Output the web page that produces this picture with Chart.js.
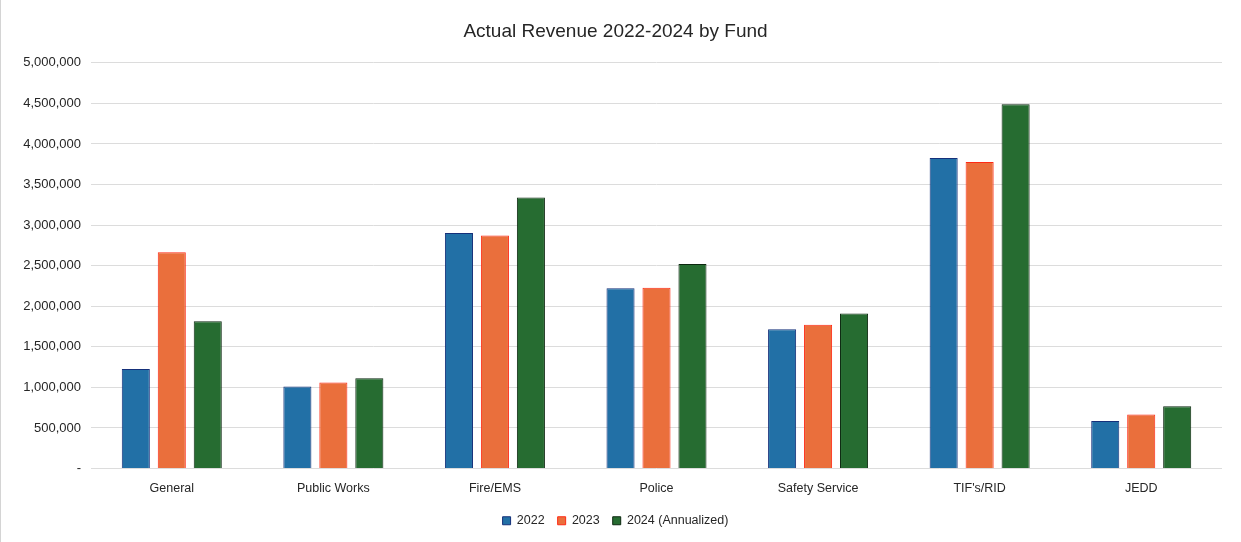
<!DOCTYPE html>
<html>
<head>
<meta charset="utf-8">
<script src="https://cdn.jsdelivr.net/npm/chart.js@4/dist/chart.umd.min.js"></script>
<style>
  html, body { margin: 0; padding: 0; background: #fff; }
  #wrap { position: relative; width: 1241px; height: 542px; box-sizing: border-box; border-left: 1px solid #d4d4d4; }
</style>
</head>
<body>
<div id="wrap"><canvas id="revenue-chart"></canvas></div>
<script>
const funds = ['General', 'Public Works', 'Fire/EMS', 'Police', 'Safety Service', "TIF's/RID", 'JEDD'];
const seriesLabels = ['2022', '2023', '2024 (Annualized)'];
const rev2022 = [1225000, 1010000, 2903000, 2221000, 1716000, 3826000, 586000];
const rev2023 = [2664000, 1059000, 2873000, 2229000, 1773000, 3777000, 665000];
const rev2024 = [1814000, 1112000, 3341000, 2521000, 1909000, 4488000, 767000];
const yTicks = [0, 500000, 1000000, 1500000, 2000000, 2500000, 3000000, 3500000, 4000000, 4500000, 5000000];

const colors = {
  blue: '#2270a6',
  blueEdge: '#15307a',
  orange: '#ea6f3c',
  orangeEdge: '#ff2a14',
  green: '#266c31',
  greenEdge: '#0c2810',
  text: '#262626',
  grid: '#dcdcdc',
};

const font = "'Liberation Sans', Arial, sans-serif";

function fmt(v) {
  if (v === 0) return '-';
  return v.toLocaleString('en-US');
}

const ctx = document.getElementById('revenue-chart').getContext('2d');

new Chart(ctx, {
  type: 'bar',
  data: {
    labels: funds,
    datasets: [
      { label: seriesLabels[0], data: rev2022, backgroundColor: colors.blue, borderColor: colors.blueEdge, borderWidth: 1 },
      { label: seriesLabels[1], data: rev2023, backgroundColor: colors.orange, borderColor: colors.orangeEdge, borderWidth: 1 },
      { label: seriesLabels[2], data: rev2024, backgroundColor: colors.green, borderColor: colors.greenEdge, borderWidth: 1 },
    ]
  },
  options: {
    responsive: true,
    maintainAspectRatio: false,
    animation: false,
    categoryPercentage: 0.668,
    barPercentage: 0.78,
    layout: { padding: { left: 8, right: 19, top: 12, bottom: 5 } },
    plugins: {
      title: {
        display: true,
        text: 'Actual Revenue 2022-2024 by Fund',
        color: colors.text,
        font: { family: font, size: 19, weight: 'normal' },
        padding: { top: 8, bottom: 20 }
      },
      legend: {
        position: 'bottom',
        labels: {
          color: colors.text,
          font: { family: font, size: 12.5 },
          boxWidth: 8,
          boxHeight: 8,
          padding: 13,
          generateLabels(chart) {
            return chart.data.datasets.map((ds, i) => ({
              text: ds.label,
              fillStyle: ds.backgroundColor,
              strokeStyle: ds.borderColor,
              lineWidth: 1,
              fontColor: colors.text,
              datasetIndex: i,
              hidden: false
            }));
          }
        }
      },
      tooltip: { enabled: false }
    },
    scales: {
      x: {
        grid: { display: false },
        border: { display: false },
        ticks: { color: colors.text, font: { family: font, size: 12.5 }, padding: 5 }
      },
      y: {
        min: 0,
        max: 5000000,
        afterFit(scale) { scale.width = 82; },
        afterBuildTicks(scale) { scale.ticks = yTicks.map(v => ({ value: v })); },
        grid: { color: colors.grid, drawTicks: false },
        border: { display: false },
        ticks: {
          color: colors.text,
          font: { family: font, size: 13 },
          padding: 10,
          callback: fmt
        }
      }
    }
  }
});
</script>
</body>
</html>
